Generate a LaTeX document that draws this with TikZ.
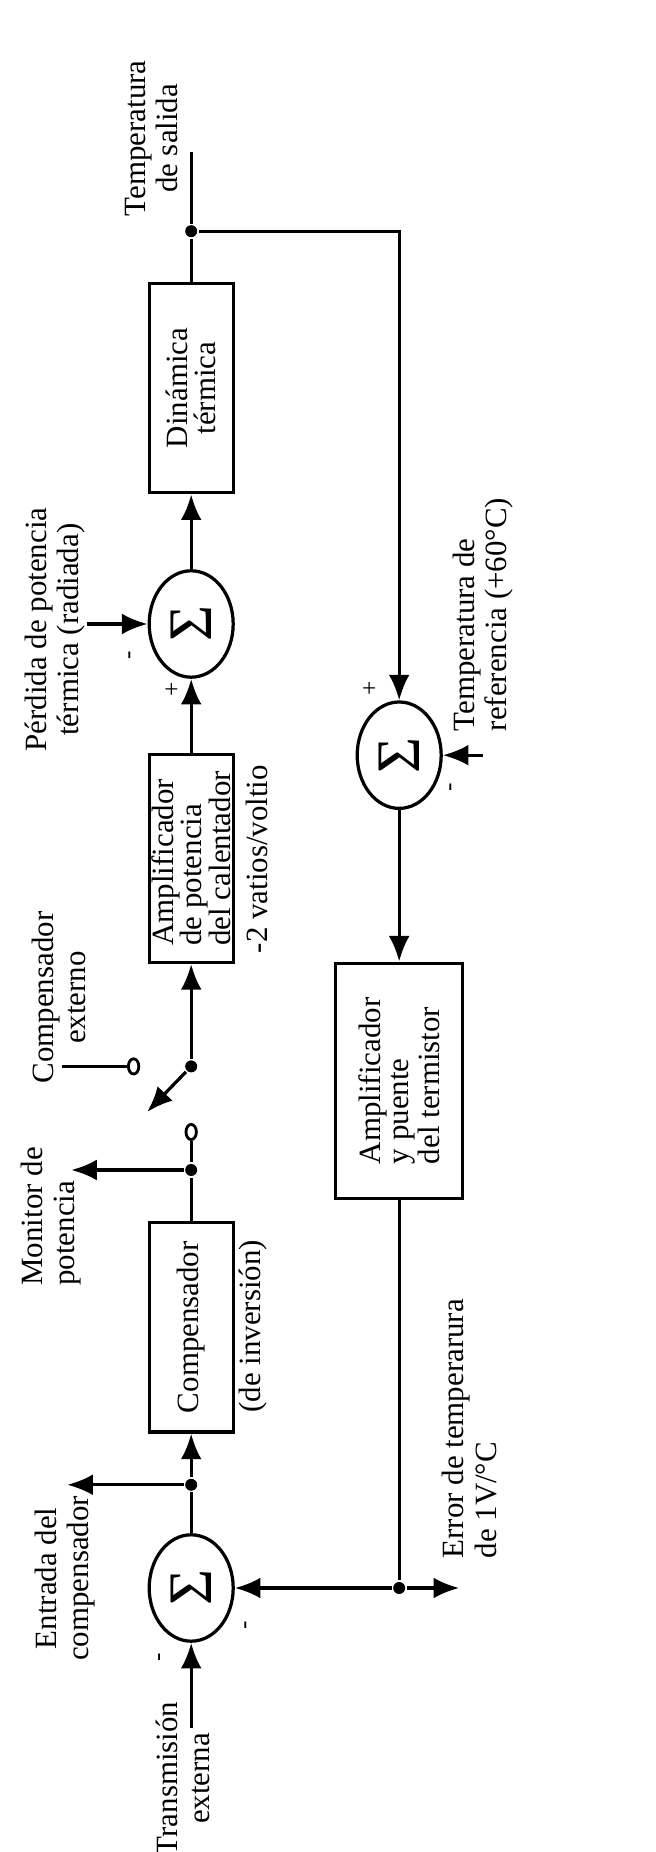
\documentclass[tikz,border=0pt]{standalone}
\usepackage{fontspec}
\setmainfont{Liberation Serif}
\usetikzlibrary{arrows.meta, shapes.geometric}

\begin{document}
\begin{tikzpicture}[rotate=90, transform shape, line width=1.15pt,
  >={Latex[length=3.2mm,width=2.6mm]},
  block/.style={draw, rectangle, minimum width=2.6cm, minimum height=1.05cm,
    inner sep=1pt, align=left, font=\fontsize{11}{10}\selectfont},
  sum/.style={draw, ellipse, minimum width=1.33cm, minimum height=1.05cm,
    inner sep=0pt, font=\fontsize{22}{22}\selectfont},
  dot/.style={circle, fill, inner sep=0pt, minimum size=1.5mm},
  term/.style={draw, ellipse, inner sep=0pt, minimum width=1.9mm,
    minimum height=1.3mm, line width=1pt},
  lbl/.style={inner sep=0pt, align=center, font=\fontsize{11}{11.5}\selectfont},
  sgn/.style={inner sep=0pt, font=\small}]
\useasboundingbox (0,0) rectangle (23.15,8.19);

% forward path
\coordinate (inStart) at (1.55,5.8);
\node[sum] (sumA) at (3.3,5.8) {Σ};
\node[dot] (jA) at (4.59,5.8) {};
\node[block, minimum width=2.62cm] (comp) at (6.56,5.8) {Compensador};
\node[dot] (jB) at (8.525,5.8) {};
\node[term] (termA) at (9.0,5.8) {};
\node[dot] (pivot) at (9.82,5.8) {};
\node[term] (termB) at (9.82,6.52) {};
\coordinate (extEnd) at (9.82,7.42);
\coordinate (armEnd) at (9.25,6.35);
\node[block, inner ysep=0pt] (amp) at (12.42,5.8) {Amplificador\\de potencia\\del calentador};
\node[sum] (sumB) at (15.35,5.8) {Σ};
\coordinate (lossIn) at (15.35,7.1);
\node[block, minimum width=2.62cm, align=center] (dyn) at (18.3,5.8) {Dinámica\\térmica};
\node[dot] (jC) at (20.26,5.8) {};
\coordinate (outEnd) at (21.25,5.8);
\coordinate (compIn) at (4.59,7.35);
\coordinate (monOut) at (8.525,7.3);

% feedback path
\coordinate (fbCorner) at (20.26,3.2);
\node[sum] (sumC) at (13.71,3.2) {Σ};
\coordinate (refIn) at (13.71,2.15);
\node[block, minimum width=2.94cm, minimum height=1.59cm] (bridge) at (9.64,3.2) {Amplificador\\y puente\\del termistor};
\node[dot] (jD) at (3.3,3.2) {};
\coordinate (errEnd) at (3.3,2.45);

\draw[->] (inStart) -- (sumA);
\draw (sumA) -- (jA);
\draw[->] (jA) -- (comp);
\draw[->] (jA) -- (compIn);
\draw (comp) -- (jB) -- (termA);
\draw[->] (jB) -- (monOut);
\draw (termB) -- (extEnd);
\draw[->] (pivot) -- (armEnd);
\draw[->] (pivot) -- (amp);
\draw[->] (amp) -- (sumB);
\draw[->] (lossIn) -- (sumB);
\draw[->] (sumB) -- (dyn);
\draw (dyn) -- (jC) -- (outEnd);
\draw[->] (jC) -- (fbCorner) -- (sumC);
\draw[->] (refIn) -- (sumC);
\draw[->] (sumC) -- (bridge);
\draw (bridge) -- (jD);
\draw[->] (jD) -- (sumA);
\draw[->] (jD) -- (errEnd);

% labels
\node[lbl] (lblIn) at (0.92,5.9) {Transmisión\\externa};
\node[lbl] (lblCompIn) at (3.42,7.38) {Entrada del\\compensador};
\node[lbl, align=left, anchor=west] (lblMon) at (7.06,7.55) {Monitor de\\potencia};
\node[lbl] (lblExt) at (10.68,7.45) {Compensador\\externo};
\node[lbl] (lblInv) at (6.57,5.03) {(de inversión)};
\node[lbl] (lblGain) at (12.41,4.98) {-2 vatios/voltio};
\node[lbl] (lblLoss) at (15.28,7.5) {Pérdida de potencia\\térmica (radiada)};
\node[lbl] (lblOut) at (21.42,6.3) {Temperatura\\de salida};
\node[lbl, align=left, anchor=west] (lblRef) at (13.99,2.15) {Temperatura de\\referencia (+60°C)};
\node[lbl, align=left, anchor=west] (lblErr) at (3.65,2.32) {Error de temperarura\\de 1V/°C};

% signs
\node[sgn] (sA1) at (2.43,6.17) {-};
\node[sgn] (sA2) at (2.84,5.09) {-};
\node[sgn] (sB1) at (14.53,6.03) {+};
\node[sgn] (sB2) at (14.96,6.54) {-};
\node[sgn] (sC1) at (14.55,3.56) {+};
\node[sgn] (sC2) at (13.31,2.53) {-};
\end{tikzpicture}
\end{document}
